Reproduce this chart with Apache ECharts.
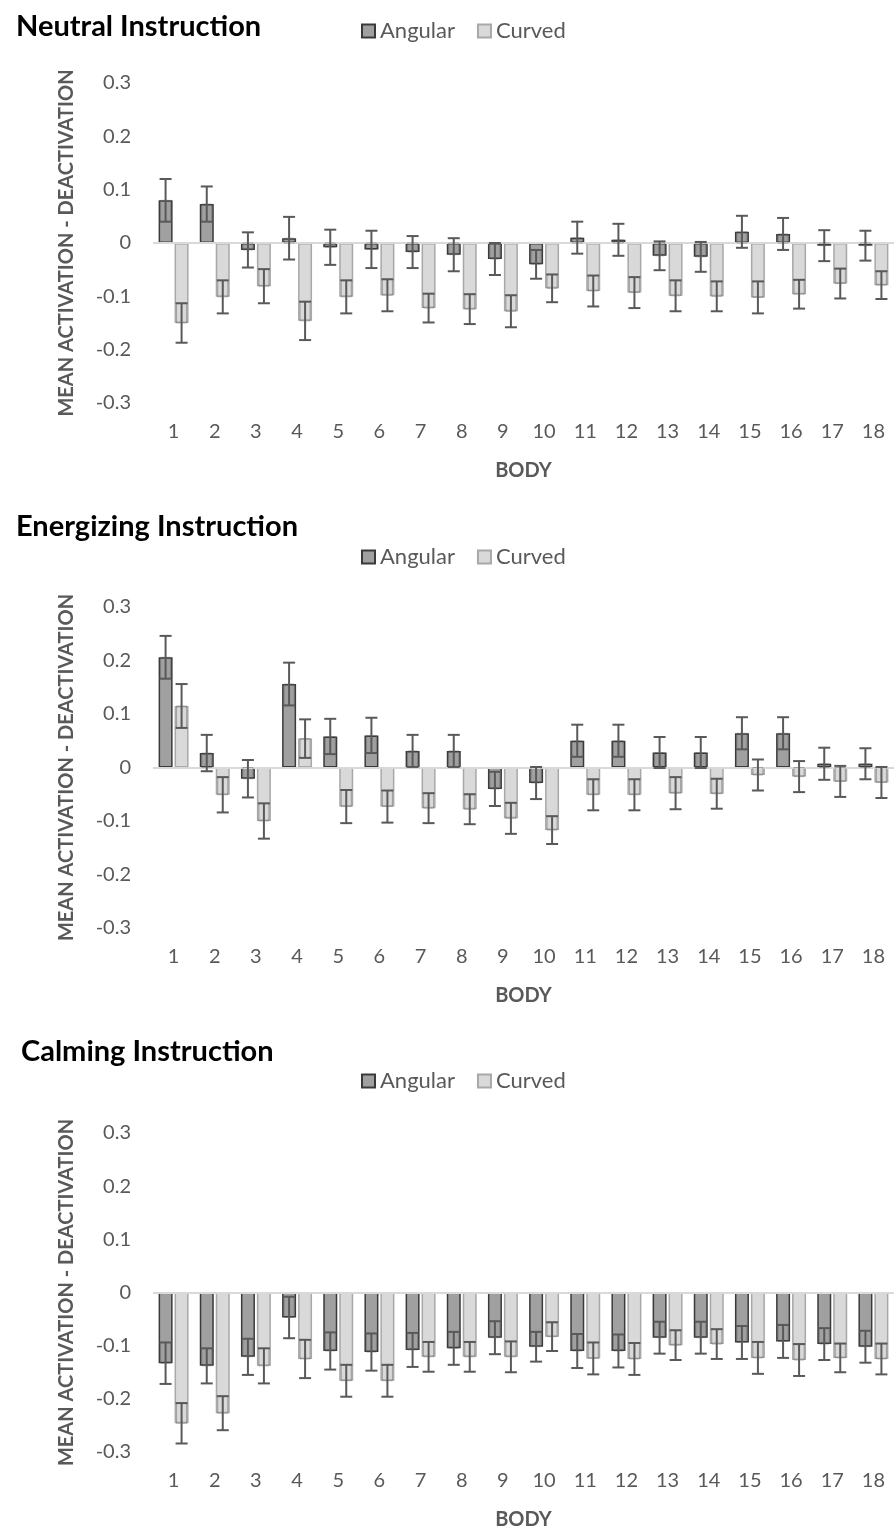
<!DOCTYPE html>
<html>
<head>
<meta charset="utf-8">
<script src="https://cdn.jsdelivr.net/npm/echarts@6/dist/echarts.min.js"></script>
<style>
  html, body { margin: 0; padding: 0; background: #ffffff; }
  #chart { width: 896px; height: 1531px; }
</style>
</head>
<body>
<div id="chart"></div>
<script>
// ---------------- DATA ----------------
const categories = ['1','2','3','4','5','6','7','8','9','10','11','12','13','14','15','16','17','18'];
const panelTitles = ['Neutral Instruction', 'Energizing Instruction', 'Calming Instruction'];
const seriesNames = ['Angular', 'Curved'];
const yTicks = [-0.3, -0.2, -0.1, 0, 0.1, 0.2, 0.3];
const xAxisName = 'BODY';
const yAxisName = 'MEAN ACTIVATION - DEACTIVATION';

// Neutral
const neutralAngular    = [0.080, 0.073, -0.013, 0.009, -0.008, -0.012, -0.017, -0.022, -0.030, -0.040, 0.010, 0.006, -0.024, -0.026, 0.021, 0.017, -0.005, -0.005];
const neutralAngularErr = [0.040, 0.033, 0.033, 0.040, 0.033, 0.035, 0.030, 0.031, 0.030, 0.027, 0.030, 0.030, 0.027, 0.028, 0.030, 0.030, 0.029, 0.028];
const neutralCurved     = [-0.150, -0.101, -0.081, -0.146, -0.101, -0.098, -0.122, -0.124, -0.128, -0.085, -0.090, -0.093, -0.099, -0.100, -0.102, -0.096, -0.076, -0.079];
const neutralCurvedErr  = [0.037, 0.031, 0.032, 0.036, 0.031, 0.030, 0.027, 0.028, 0.030, 0.026, 0.029, 0.029, 0.029, 0.028, 0.030, 0.027, 0.028, 0.026];

// Energizing
const energizingAngular    = [0.206, 0.027, -0.021, 0.156, 0.058, 0.060, 0.031, 0.031, -0.040, -0.029, 0.050, 0.050, 0.028, 0.028, 0.064, 0.064, 0.007, 0.007];
const energizingAngularErr = [0.040, 0.034, 0.035, 0.040, 0.033, 0.033, 0.030, 0.030, 0.032, 0.030, 0.030, 0.030, 0.029, 0.029, 0.030, 0.030, 0.030, 0.029];
const energizingCurved     = [0.115, -0.051, -0.100, 0.054, -0.073, -0.073, -0.076, -0.078, -0.095, -0.117, -0.051, -0.051, -0.048, -0.049, -0.014, -0.017, -0.026, -0.028];
const energizingCurvedErr  = [0.041, 0.033, 0.033, 0.036, 0.031, 0.030, 0.028, 0.028, 0.029, 0.026, 0.029, 0.029, 0.030, 0.028, 0.029, 0.029, 0.029, 0.029];

// Calming
const calmingAngular    = [-0.133, -0.138, -0.121, -0.047, -0.110, -0.112, -0.108, -0.105, -0.085, -0.102, -0.110, -0.110, -0.085, -0.085, -0.094, -0.092, -0.097, -0.102];
const calmingAngularErr = [0.039, 0.033, 0.034, 0.039, 0.035, 0.035, 0.032, 0.031, 0.031, 0.028, 0.032, 0.031, 0.030, 0.030, 0.031, 0.031, 0.030, 0.030];
const calmingCurved     = [-0.246, -0.227, -0.138, -0.125, -0.166, -0.166, -0.121, -0.121, -0.121, -0.083, -0.124, -0.125, -0.099, -0.097, -0.123, -0.127, -0.123, -0.125];
const calmingCurvedErr  = [0.038, 0.032, 0.033, 0.036, 0.030, 0.030, 0.028, 0.028, 0.029, 0.027, 0.030, 0.030, 0.028, 0.028, 0.030, 0.030, 0.027, 0.029];

// ---------------- LAYOUT / STYLE ----------------
const panels = [
  { title: panelTitles[0], a: neutralAngular, ae: neutralAngularErr, c: neutralCurved, ce: neutralCurvedErr, titleTop: 7, legendTop: 15, gridTop: 83, gridHeight: 320, titleLeft: 11 },
  { title: panelTitles[1], a: energizingAngular, ae: energizingAngularErr, c: energizingCurved, ce: energizingCurvedErr, titleTop: 507, legendTop: 541, gridTop: 607, gridHeight: 321, titleLeft: 11 },
  { title: panelTitles[2], a: calmingAngular, ae: calmingAngularErr, c: calmingCurved, ce: calmingCurvedErr, titleTop: 1032, legendTop: 1065, gridTop: 1133, gridHeight: 319, titleLeft: 16 }
];

const FONT = 'Lato, "Open Sans", sans-serif';
const GRAY_TEXT = '#595959';
const BAR_W = 14;
const BAR_OFFSET = 8; // half of (bar width + gap)
const CAP_HALF = 6;

const angularStyle = { color: '#a0a0a0', borderColor: '#3a3a3a', borderWidth: 1.5 };
const curvedStyle  = { color: '#d9d9d9', borderColor: '#a8a8a8', borderWidth: 1.5 };

function errRenderer(offset) {
  return function (params, api) {
    const i = api.value(0), v = api.value(1), e = api.value(2);
    const pTop = api.coord([i, v + e]);
    const pBot = api.coord([i, v - e]);
    const pMean = api.coord([i, v]);
    const innerEnd = v >= 0 ? Math.max(v - e, 0) : Math.min(v + e, 0);
    const pInner = api.coord([i, innerEnd]);
    const x = pTop[0] + offset;
    const style = { stroke: '#595959', lineWidth: 2, fill: null };
    const y1 = Math.min(pMean[1], pInner[1]);
    const h = Math.abs(pMean[1] - pInner[1]);
    return {
      type: 'group',
      children: [
        { type: 'rect', shape: { x: x - CAP_HALF + 1, y: y1, width: 2 * CAP_HALF - 2, height: h },
          style: { stroke: 'rgba(90,90,90,0.45)', lineWidth: 1, fill: null } },
        { type: 'line', shape: { x1: x, y1: pTop[1], x2: x, y2: pBot[1] }, style: style },
        { type: 'line', shape: { x1: x - CAP_HALF, y1: pTop[1], x2: x + CAP_HALF, y2: pTop[1] }, style: style },
        { type: 'line', shape: { x1: x - CAP_HALF, y1: pBot[1], x2: x + CAP_HALF, y2: pBot[1] }, style: style }
      ]
    };
  };
}

const option = {
  animation: false,
  backgroundColor: '#ffffff',
  title: [], legend: [], grid: [], xAxis: [], yAxis: [], series: []
};

panels.forEach((p, k) => {
  option.title.push({
    text: p.title, left: p.titleLeft, top: p.titleTop,
    textStyle: { fontFamily: FONT, fontWeight: 'bold', fontSize: 29, color: '#000000' }
  });
  option.legend.push({
    data: seriesNames, left: 356, top: p.legendTop,
    icon: 'rect', itemWidth: 13, itemHeight: 13, itemGap: 22,
    textStyle: { fontFamily: FONT, fontSize: 22, color: GRAY_TEXT },
    selectedMode: false
  });
  option.grid.push({ left: 153, right: 2, top: p.gridTop, height: p.gridHeight });
  option.xAxis.push({
    type: 'category', gridIndex: k, data: categories,
    axisLine: { show: false }, axisTick: { show: false },
    axisLabel: { fontFamily: FONT, fontSize: 20, color: GRAY_TEXT, margin: 19 },
    name: xAxisName, nameLocation: 'middle', nameGap: 58,
    nameTextStyle: { fontFamily: FONT, fontWeight: 'bold', fontSize: 20, color: GRAY_TEXT }
  });
  option.yAxis.push({
    type: 'value', gridIndex: k, min: yTicks[0], max: yTicks[yTicks.length - 1], interval: 0.1,
    splitLine: { show: false }, axisLine: { show: false }, axisTick: { show: false },
    axisLabel: {
      fontFamily: FONT, fontSize: 20, color: GRAY_TEXT, margin: 22,
      formatter: v => (Math.abs(v) < 1e-9 ? '0' : v.toFixed(1))
    },
    name: yAxisName, nameLocation: 'middle', nameGap: 76,
    nameTextStyle: { fontFamily: FONT, fontWeight: 'bold', fontSize: 20, color: GRAY_TEXT }
  });
  option.series.push({
    name: seriesNames[0], type: 'bar', xAxisIndex: k, yAxisIndex: k,
    data: p.a, barWidth: BAR_W, barGap: '14%', itemStyle: angularStyle,
    markLine: {
      silent: true, symbol: 'none', label: { show: false },
      lineStyle: { color: '#d9d9d9', width: 2, type: 'solid' },
      data: [{ yAxis: 0 }]
    }
  });
  option.series.push({
    name: seriesNames[1], type: 'bar', xAxisIndex: k, yAxisIndex: k,
    data: p.c, barWidth: BAR_W, barGap: '14%', itemStyle: curvedStyle
  });
  option.series.push({
    name: seriesNames[0] + ' SE', type: 'custom', xAxisIndex: k, yAxisIndex: k, z: 5,
    renderItem: errRenderer(-BAR_OFFSET),
    data: p.a.map((v, i) => [i, v, p.ae[i]])
  });
  option.series.push({
    name: seriesNames[1] + ' SE', type: 'custom', xAxisIndex: k, yAxisIndex: k, z: 5,
    renderItem: errRenderer(BAR_OFFSET),
    data: p.c.map((v, i) => [i, v, p.ce[i]])
  });
});

const chart = echarts.init(document.getElementById('chart'), null, { renderer: 'canvas' });
chart.setOption(option);
</script>
</body>
</html>
